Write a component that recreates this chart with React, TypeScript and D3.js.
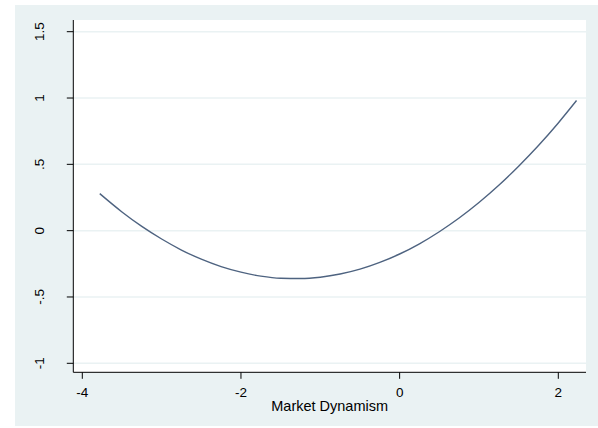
import React from "react";
import * as d3 from "d3";

const xValues = [-3.78, -3.5, -3.25, -3.0, -2.75, -2.5, -2.25, -2.0, -1.75, -1.5, -1.25, -1.0, -0.75, -0.5, -0.25, 0, 0.25, 0.5, 0.75, 1.0, 1.25, 1.5, 1.75, 2.0, 2.23];
const yValues = [0.279, 0.141, 0.032, -0.063, -0.146, -0.215, -0.271, -0.313, -0.343, -0.359, -0.361, -0.351, -0.327, -0.29, -0.239, -0.176, -0.099, -0.008, 0.095, 0.212, 0.342, 0.486, 0.642, 0.812, 0.981];
const xTicks = [-4, -2, 0, 2];
const xTickLabels = ["-4", "-2", "0", "2"];
const yTicks = [-1, -0.5, 0, 0.5, 1, 1.5];
const yTickLabels = ["-1", "-.5", "0", ".5", "1", "1.5"];
const xTitle = "Market Dynamism";

const W = 598, H = 428;
const plot = { left: 73.3, right: 586, top: 20, bottom: 372.3 };
const BG = "#eaf2f3";
const FONT = "'Liberation Sans', Arial, sans-serif";

export default function App() {
  const x = d3.scaleLinear().domain([-4, 2]).range([82.3, 558.3]);
  const y = d3.scaleLinear().domain([-1, 1.5]).range([363.3, 31.7]);
  const pts = xValues.map((v, i) => [v, yValues[i]] as [number, number]);
  const line = d3.line<[number, number]>().x(d => x(d[0])).y(d => y(d[1])).curve(d3.curveMonotoneX);

  return (
    <svg width={W} height={H} style={{ position: "absolute", left: 0, top: 0 }}>
      <rect x={0} y={0} width={W} height={H} fill="#ffffff" />
      <rect x={15} y={5} width={W - 15} height={421} fill={BG} />
      <rect x={plot.left} y={plot.top} width={plot.right - plot.left} height={plot.bottom - plot.top} fill="#ffffff" />
      {yTicks.map(t => (
        <line key={"g" + t} x1={plot.left} x2={plot.right} y1={y(t)} y2={y(t)} stroke={BG} strokeWidth={1.5} />
      ))}
      <path d={line(pts) || ""} fill="none" stroke="#4e6380" strokeWidth={1.4} />
      <line x1={plot.left} x2={plot.left} y1={plot.top} y2={plot.bottom} stroke="#000" strokeWidth={1} />
      <line x1={plot.left} x2={plot.right} y1={plot.bottom} y2={plot.bottom} stroke="#000" strokeWidth={1} />
      {yTicks.map((t, i) => (
        <g key={"y" + t}>
          <line x1={plot.left - 6.5} x2={plot.left} y1={y(t)} y2={y(t)} stroke="#000" strokeWidth={1} />
          <text transform={`translate(44,${y(t)}) rotate(-90)`} textAnchor="middle" fontFamily={FONT} fontSize={13.5} fill="#000">{yTickLabels[i]}</text>
        </g>
      ))}
      {xTicks.map((t, i) => (
        <g key={"x" + t}>
          <line x1={x(t)} x2={x(t)} y1={plot.bottom} y2={plot.bottom + 6.5} stroke="#000" strokeWidth={1} />
          <text x={x(t)} y={397} textAnchor="middle" fontFamily={FONT} fontSize={13.5} fill="#000">{xTickLabels[i]}</text>
        </g>
      ))}
      <text x={(plot.left + plot.right) / 2} y={411} textAnchor="middle" fontFamily={FONT} fontSize={14.5} fill="#000">{xTitle}</text>
    </svg>
  );
}
